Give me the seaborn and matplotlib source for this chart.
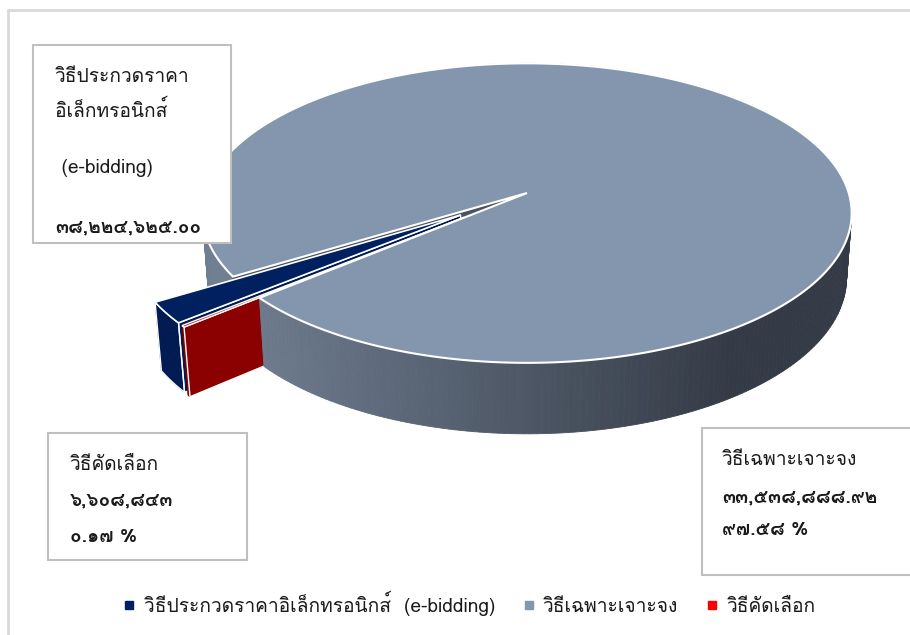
import numpy as np
import matplotlib
matplotlib.use("Agg")
import matplotlib.pyplot as plt
from matplotlib.patches import Polygon, Rectangle
from matplotlib.lines import Line2D
from matplotlib import font_manager as fm
import seaborn as sns

# ---------------- data ----------------
categories = ["วิธีประกวดราคาอิเล็กทรอนิกส์  (e-bidding)", "วิธีเฉพาะเจาะจง", "วิธีคัดเลือก"]
percent = [2.25, 97.58, 0.17]
amount_labels = ["๓๘,๒๒๔,๖๒๕.๐๐", "๓๓,๕๓๘,๘๘๘.๙๒", "๖,๖๐๘,๘๔๓"]
percent_labels = ["", "๙๗.๕๘ %", "๐.๑๗ %"]
eb_label_lines = ["วิธีประกวดราคา", "อิเล็กทรอนิกส์", " (e-bidding)"]
explode = [0.25, 0.0, 0.25]
colors = ["#002060", "#8396AD", "#C00000"]
legend_colors = ["#002060", "#8497B0", "#FF0000"]

sns.set_theme(style="white")
installed = {f.name for f in fm.fontManager.ttflist}
thai_family = next((n for n in ["Loma", "Sarabun", "Noto Sans Thai Looped", "Noto Sans Thai"] if n in installed), None)
plt.rcParams["font.family"] = ([thai_family] if thai_family else []) + ["DejaVu Sans"]

fig = plt.figure(figsize=(9.10, 6.35), dpi=100)
ax = fig.add_axes([0, 0, 1, 1])
ax.set_xlim(0, 910)
ax.set_ylim(635, 0)
ax.axis("off")

# ------------- 3D projection -------------
CX, CY = 527.0, 193.0
F, D = 2133.0, 6.63
E = np.deg2rad(27.2)
T = 0.228


def proj(X, Y, Z):
    X = np.asarray(X, float); Y = np.asarray(Y, float); Z = np.asarray(Z, float)
    depth = D + Y * np.cos(E) - Z * np.sin(E)
    sx = CX + F * X / depth
    sy = CY - F * (Y * np.sin(E) + Z * np.cos(E)) / depth
    return np.column_stack([sx, sy])


START = 220.0
cum = np.concatenate([[0], np.cumsum(percent)])
ranges = []
for i, p in enumerate(percent):
    a0 = START - cum[i] * 3.6
    a1 = a0 - p * 3.6
    ranges.append((np.deg2rad(a1), np.deg2rad(a0)))

light = np.array([112, 126, 145]) / 255
dark = np.array([52, 59, 70]) / 255


def wall_color(x):
    t = np.clip((x - 240) / (730 - 240), 0, 1)
    return tuple(light * (1 - t) + dark * t)


def offset(i):
    lo, hi = ranges[i]
    m = 0.5 * (lo + hi)
    return explode[i] * np.cos(m), explode[i] * np.sin(m)


def draw_walls(i, amin, amax, color=None, z=1):
    lo, hi = ranges[i]
    a0, a1 = max(lo, amin), min(hi, amax)
    if a1 <= a0:
        return
    ox, oy = offset(i)
    n = max(2, int(np.degrees(a1 - a0) / 1.0) + 1)
    angs = np.linspace(a0, a1, n + 1)
    segs = []
    for j in range(n):
        aa = np.linspace(angs[j], angs[j + 1], 3)
        X = ox + np.cos(aa); Y = oy + np.sin(aa)
        top = proj(X, Y, np.zeros_like(X))
        bot = proj(X, Y, -T * np.ones_like(X))
        poly = np.vstack([top, bot[::-1]])
        segs.append((np.mean(Y), poly))
    segs.sort(key=lambda s: -s[0])
    for _, poly in segs:
        c = color if color is not None else wall_color(poly[:, 0].mean())
        ax.add_patch(Polygon(poly, closed=True, facecolor=c, edgecolor=c, lw=0.6, zorder=z))


def draw_face(i, which, color, z=1, edge="white"):
    lo, hi = ranges[i]
    a = hi if which == "hi" else lo
    ox, oy = offset(i)
    X = [ox, ox + np.cos(a), ox + np.cos(a), ox]
    Y = [oy, oy + np.sin(a), oy + np.sin(a), oy]
    Z = [0, 0, -T, -T]
    ax.add_patch(Polygon(proj(X, Y, Z), closed=True, facecolor=color, edgecolor=edge, lw=1.0, zorder=z))


def draw_top(i, color, z=1, lw=1.2):
    lo, hi = ranges[i]
    ox, oy = offset(i)
    aa = np.linspace(lo, hi, max(3, int(np.degrees(hi - lo) * 2)))
    X = np.concatenate([[ox], ox + np.cos(aa)])
    Y = np.concatenate([[oy], oy + np.sin(aa)])
    ax.add_patch(Polygon(proj(X, Y, np.zeros_like(X)), closed=True, facecolor=color,
                         edgecolor="white", lw=lw, zorder=z, joinstyle="miter"))


def outline_wall(i, z):
    lo, hi = ranges[i]
    ox, oy = offset(i)
    aa = np.linspace(lo, hi, 20)
    X = ox + np.cos(aa); Y = oy + np.sin(aa)
    top = proj(X, Y, np.zeros_like(X)); bot = proj(X, Y, -T * np.ones_like(X))
    ax.add_patch(Polygon(np.vstack([top, bot[::-1]]), closed=True, facecolor="none",
                         edgecolor="white", lw=1.0, zorder=z))


MAIN, EB, SEL = 1, 0, 2
draw_walls(MAIN, np.deg2rad(90), np.deg2rad(400), z=1)
draw_face(MAIN, "hi", "#4B5361", z=2, edge="#4B5361")
draw_walls(EB, -10, 10, color="#001A52", z=3)
outline_wall(EB, 3.5)
draw_face(EB, "hi", "#001A52", z=3)
draw_top(EB, colors[EB], z=4)
draw_walls(SEL, -10, 10, color="#7F0000", z=5)
draw_face(SEL, "hi", "#8B0000", z=5)
draw_top(SEL, colors[SEL], z=6, lw=1.0)
draw_walls(MAIN, np.deg2rad(-200), np.deg2rad(90), z=7)
draw_top(MAIN, colors[MAIN], z=8, lw=1.5)

# ------------- frame -------------
ax.add_line(Line2D([8, 8], [10, 640], color="#D9D9D9", lw=2, zorder=0))
ax.add_line(Line2D([8, 915], [10, 10], color="#D9D9D9", lw=2, zorder=0))

# ------------- label boxes -------------
fs = 13.8
fsn = 13.8
boxes = [(33, 45, 198, 198), (48, 433, 199, 127), (702, 428, 215, 147)]
for (bx, by, bw, bh) in boxes:
    ax.add_patch(Rectangle((bx, by), bw, bh, facecolor="white", edgecolor="#BFBFBF", lw=1.5, zorder=20))

kw = dict(va="center", ha="left", zorder=21, color="#1a1a1a")
ax.text(55, 77, eb_label_lines[0], fontsize=fs, **kw)
ax.text(55, 110, eb_label_lines[1], fontsize=fs, **kw)
ax.text(55, 168, eb_label_lines[2], fontsize=fs, **kw)
ax.text(55, 227, amount_labels[EB], fontsize=fsn, fontweight="bold", **kw)

ax.text(70, 465, categories[SEL], fontsize=fs, **kw)
ax.text(70, 500, amount_labels[SEL], fontsize=fsn, fontweight="bold", **kw)
ax.text(70, 537, percent_labels[SEL], fontsize=fsn, fontweight="bold", **kw)

ax.text(722, 460, categories[MAIN], fontsize=fs, **kw)
ax.text(722, 497, amount_labels[MAIN], fontsize=fsn, fontweight="bold", **kw)
ax.text(722, 530, percent_labels[MAIN], fontsize=fsn, fontweight="bold", **kw)

# ------------- legend -------------
handles = [Line2D([], [], marker="s", linestyle="none", markersize=5.5, color=c) for c in legend_colors]
leg = ax.legend(handles, categories, loc="center", bbox_to_anchor=(470 / 910, 1 - 603 / 635), ncol=3,
                frameon=False, fontsize=fs, handlelength=0.5, handletextpad=0.5, columnspacing=1.5)
for t in leg.get_texts():
    t.set_color("#1a1a1a")

fig.savefig("out.png", dpi=100)
